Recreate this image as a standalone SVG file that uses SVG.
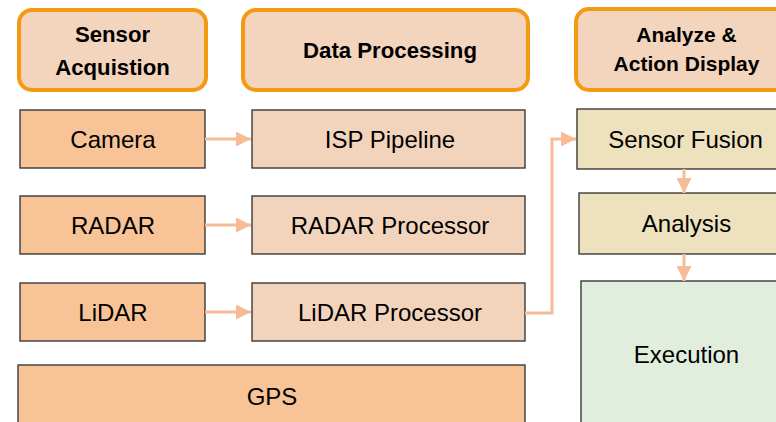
<svg xmlns="http://www.w3.org/2000/svg" width="776" height="422" viewBox="0 0 776 422">
  <style>
    .hdr { fill: #F3D4BC; stroke: #F39A12; stroke-width: 4; }
    .src { fill: #F8C396; stroke: #3a3a3a; stroke-width: 1.4; }
    .proc { fill: #F2D4BD; stroke: #3a3a3a; stroke-width: 1.4; }
    .ana { fill: #EEE1BE; stroke: #3a3a3a; stroke-width: 1.4; }
    .exe { fill: #E2EEDD; stroke: #3a3a3a; stroke-width: 1.4; }
    .ht { font-family: "Liberation Sans", Arial, sans-serif; font-weight: bold; font-size: 22.2px; fill: #000; text-anchor: middle; }
    .ht-s { font-size: 21px; }
    .bt { font-family: "Liberation Sans", Arial, sans-serif; font-size: 24px; fill: #000; text-anchor: middle; }
    .conn { fill: none; stroke: #F8BB98; stroke-width: 3; }
  </style>
  <defs>
    <marker id="arr" viewBox="0 0 15 15" refX="15" refY="7.5" markerWidth="15" markerHeight="15" markerUnits="userSpaceOnUse" orient="auto">
      <path d="M0,0 L15,7.5 L0,15 Z" fill="#F8BB98"/>
    </marker>
  </defs>

  <rect width="776" height="422" fill="#FFFFFF"/>

  <!-- column headers -->
  <g id="hdr-sensor">
    <rect class="hdr" x="19" y="10" width="187" height="80" rx="13"/>
    <text class="ht" x="112.5" y="42">Sensor</text>
    <text class="ht" x="112.5" y="75">Acquistion</text>
  </g>
  <g id="hdr-processing">
    <rect class="hdr" x="243" y="10" width="285" height="80" rx="13"/>
    <text class="ht" x="390" y="57.5">Data Processing</text>
  </g>
  <g id="hdr-analyze">
    <rect class="hdr" x="576" y="9" width="222" height="81" rx="13"/>
    <text class="ht ht-s" x="686.5" y="42">Analyze &amp;</text>
    <text class="ht ht-s" x="686.5" y="71">Action Display</text>
  </g>

  <!-- sensors -->
  <g id="camera">
    <rect class="src" x="20" y="110" width="185" height="58"/>
    <text class="bt" x="113" y="147.5">Camera</text>
  </g>
  <g id="radar">
    <rect class="src" x="20" y="196" width="185" height="58"/>
    <text class="bt" x="113" y="233.5">RADAR</text>
  </g>
  <g id="lidar">
    <rect class="src" x="20" y="283" width="185" height="58"/>
    <text class="bt" x="113" y="320.5">LiDAR</text>
  </g>
  <g id="gps">
    <rect class="src" x="18" y="365" width="507" height="70"/>
    <text class="bt" x="272" y="405">GPS</text>
  </g>

  <!-- processing -->
  <g id="isp">
    <rect class="proc" x="252" y="110" width="273" height="58"/>
    <text class="bt" x="390" y="147.5">ISP Pipeline</text>
  </g>
  <g id="radar-proc">
    <rect class="proc" x="252" y="196" width="273" height="58"/>
    <text class="bt" x="390" y="233.5">RADAR Processor</text>
  </g>
  <g id="lidar-proc">
    <rect class="proc" x="252" y="283" width="273" height="58"/>
    <text class="bt" x="390" y="320.5">LiDAR Processor</text>
  </g>

  <!-- analyze & action -->
  <g id="fusion">
    <rect class="ana" x="577" y="109" width="222" height="60"/>
    <text class="bt" x="685.5" y="147.5">Sensor Fusion</text>
  </g>
  <g id="analysis">
    <rect class="ana" x="579" y="193" width="220" height="61"/>
    <text class="bt" x="686.5" y="232">Analysis</text>
  </g>
  <g id="execution">
    <rect class="exe" x="581" y="281" width="218" height="160"/>
    <text class="bt" x="686.5" y="363">Execution</text>
  </g>

  <!-- connectors -->
  <g id="connectors">
    <path class="conn" d="M205,139 H251" marker-end="url(#arr)"/>
    <path class="conn" d="M205,225 H251" marker-end="url(#arr)"/>
    <path class="conn" d="M205,312 H251" marker-end="url(#arr)"/>
    <path class="conn" d="M525,313 H552 V139 H576" marker-end="url(#arr)"/>
    <path class="conn" d="M684,169 V193" marker-end="url(#arr)"/>
    <path class="conn" d="M684,254 V281" marker-end="url(#arr)"/>
  </g>
</svg>
